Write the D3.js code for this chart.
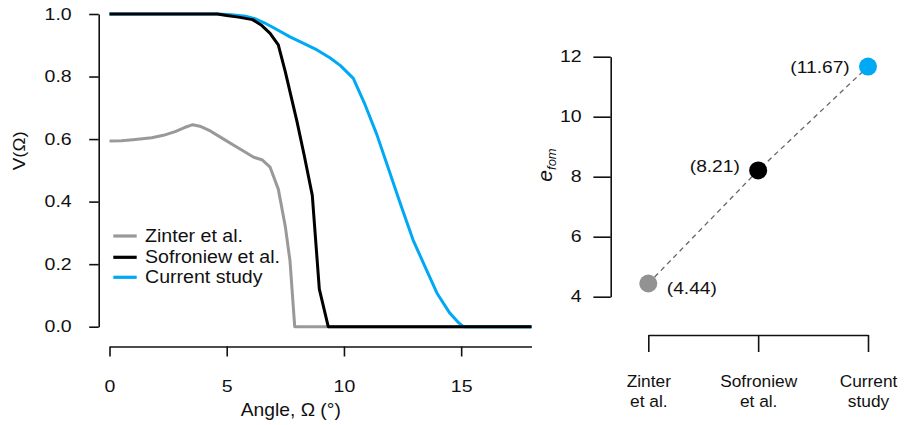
<!DOCTYPE html>
<html>
<head>
<meta charset="utf-8">
<script src="https://cdn.jsdelivr.net/npm/d3@7"></script>
<style>
  body { margin: 0; background: #fff; }
  svg { display: block; }
  text { font-family: "Liberation Sans", Arial, sans-serif; fill: #111; }
</style>
</head>
<body>
<svg id="chart" width="904" height="425"></svg>
<script>
// Visibility V(Ω) against viewing angle for the three studies
const zinterAngle = [0, 0.5, 1.0, 1.8, 2.3, 2.8, 3.2, 3.55, 3.9, 4.3, 4.8, 5.3, 5.8, 6.15, 6.5, 6.85, 7.2, 7.5, 7.7, 7.9, 18];
const zinterV     = [0.594, 0.595, 0.598, 0.604, 0.612, 0.624, 0.637, 0.646, 0.640, 0.626, 0.603, 0.580, 0.558, 0.542, 0.534, 0.510, 0.440, 0.320, 0.210, 0, 0];

const sofroniewAngle = [0, 4.6, 5.0, 5.5, 6.1, 6.5, 6.85, 7.2, 7.5, 8.0, 8.3, 8.65, 8.95, 9.33, 18];
const sofroniewV     = [1, 1, 0.995, 0.99, 0.982, 0.963, 0.938, 0.901, 0.815, 0.655, 0.55, 0.42, 0.12, 0, 0];

const currentAngle = [0, 4.6, 5.2, 5.8, 6.2, 6.6, 7.0, 7.7, 8.3, 8.85, 9.4, 9.85, 10.4, 10.9, 11.4, 11.9, 12.4, 12.95, 13.5, 13.97, 14.5, 14.9, 15.1, 18];
const currentV     = [1, 1, 0.998, 0.993, 0.985, 0.972, 0.956, 0.927, 0.905, 0.885, 0.86, 0.835, 0.794, 0.71, 0.615, 0.505, 0.395, 0.277, 0.185, 0.107, 0.045, 0.012, 0, 0];

const seriesNames  = ["Zinter et al.", "Sofroniew et al.", "Current study"];
const seriesColors = ["#999999", "#000000", "#00a9f4"];
const pointColors  = ["#929292", "#000000", "#00a9f4"];

const angleTicks = [0, 5, 10, 15];
const vTicks     = [0, 0.2, 0.4, 0.6, 0.8, 1.0];

// Figure of merit per study
const studyLines = [["Zinter", "et al."], ["Sofroniew", "et al."], ["Current", "study"]];
const efom       = [4.44, 8.21, 11.67];
const efomLabels = ["(4.44)", "(8.21)", "(11.67)"];
const efomTicks  = [4, 6, 8, 10, 12];

const svg = d3.select("#chart");

// stretched text helper
function label(parent, x, y, str, size, sx, anchor, rot) {
  return parent.append("text")
    .attr("transform", `translate(${x},${y})${rot ? ` rotate(${rot})` : ""} scale(${sx},1)`)
    .attr("text-anchor", anchor)
    .style("font-size", size + "px")
    .text(str);
}
function stretchAxisText(sel, sx, size) {
  sel.selectAll(".tick text").each(function () {
    const t = d3.select(this);
    const x = +t.attr("x") || 0;
    t.attr("x", x / sx).attr("transform", `scale(${sx},1)`)
     .style("font-size", size + "px").attr("fill", "#111");
  });
}
function styleAxis(g) {
  g.attr("font-family", null).attr("font-size", null);
  g.selectAll("path.domain, .tick line").attr("stroke", "#111").attr("stroke-width", 1.6);
}

/* ---------- left panel ---------- */
const x = d3.scaleLinear([0, 18], [109.5, 531.5]);
const y = d3.scaleLinear([0, 1], [326.7, 14]);

const gy = svg.append("g").attr("transform", "translate(98.7,0)")
  .call(d3.axisLeft(y).tickValues(vTicks).tickFormat(d3.format(".1f"))
    .tickSize(9.5).tickSizeOuter(0).tickPadding(17.5));
styleAxis(gy);
stretchAxisText(gy, 1.22, 16);

const gx = svg.append("g").attr("transform", "translate(0,346.5)")
  .call(d3.axisBottom(x).tickValues(angleTicks).tickFormat(d3.format("d"))
    .tickSize(10).tickSizeOuter(0));
styleAxis(gx);
gx.selectAll(".tick text").attr("y", 45.2).attr("dy", 0);
stretchAxisText(gx, 1.22, 16);

label(svg, 25, 150.8, "V(Ω)", 17, 1.1, "middle", -90);
label(svg, 290.8, 416, "Angle, Ω (°)", 17.5, 1.1, "middle");

const line = d3.line().x(d => x(d[0])).y(d => y(d[1]));
const curves = [
  d3.zip(zinterAngle, zinterV),
  d3.zip(sofroniewAngle, sofroniewV),
  d3.zip(currentAngle, currentV)
];
// draw Zinter, then Current, then Sofroniew on top
[0, 2, 1].forEach(i => {
  svg.append("path").datum(curves[i])
    .attr("d", line).attr("fill", "none")
    .attr("stroke", seriesColors[i]).attr("stroke-width", 3)
    .attr("stroke-linejoin", "round");
});

// legend
const legendY = [236, 257.3, 277.3];
seriesNames.forEach((name, i) => {
  svg.append("line").attr("x1", 113.3).attr("x2", 136.7)
    .attr("y1", legendY[i]).attr("y2", legendY[i])
    .attr("stroke", seriesColors[i]).attr("stroke-width", 3.2);
  label(svg, 145, legendY[i] + 5.8, name, 17.5, 1.12, "start");
});

/* ---------- right panel ---------- */
const xr = d3.scalePoint(seriesNames, [648.3, 868]);
const yr = d3.scaleLinear([4, 12], [296.7, 56.7]);

const gyr = svg.append("g").attr("transform", "translate(610.7,0)")
  .call(d3.axisLeft(yr).tickValues(efomTicks).tickFormat(d3.format("d"))
    .tickSize(17.3).tickSizeOuter(0).tickPadding(11.7));
styleAxis(gyr);
stretchAxisText(gyr, 1.22, 16);

const gxr = svg.append("g").attr("transform", "translate(0,335)")
  .call(d3.axisBottom(xr).tickSize(17).tickSizeOuter(0));
styleAxis(gxr);
gxr.selectAll(".tick text").each(function (d, i) {
  const t = d3.select(this).text(null).attr("y", null).attr("dy", null)
    .style("font-size", "16.5px").attr("fill", "#111")
    .attr("transform", "scale(1.05,1)");
  studyLines[i].forEach((s, k) => {
    t.append("tspan").attr("x", 0).attr("y", 51.7 + k * 20).text(s);
  });
});

// e_fom axis title
const yt = svg.append("text")
  .attr("transform", "translate(552,165) rotate(-90)")
  .attr("text-anchor", "middle")
  .style("font-style", "italic");
yt.append("tspan").style("font-size", "21px").text("e");
yt.append("tspan").style("font-size", "13px").attr("dy", 4).text("fom");

const pts = efom.map((v, i) => [xr(seriesNames[i]), yr(v)]);
svg.append("path").datum(pts)
  .attr("d", d3.line())
  .attr("fill", "none").attr("stroke", "#666").attr("stroke-width", 1.3)
  .attr("stroke-dasharray", "5,4");

svg.selectAll("circle.pt").data(efom).join("circle")
  .attr("class", "pt")
  .attr("cx", (d, i) => xr(seriesNames[i]))
  .attr("cy", d => yr(d))
  .attr("r", 9)
  .attr("fill", (d, i) => pointColors[i]);

// value labels: first to the right, others to the left
efom.forEach((v, i) => {
  const px = xr(seriesNames[i]), py = yr(v);
  if (i === 0) label(svg, px + 18.5, py + 10.5, efomLabels[i], 16, 1.2, "start");
  else label(svg, px - 18.3, py + (i === 1 ? 1.5 : 6.7), efomLabels[i], 16, 1.2, "end");
});
</script>
</body>
</html>
